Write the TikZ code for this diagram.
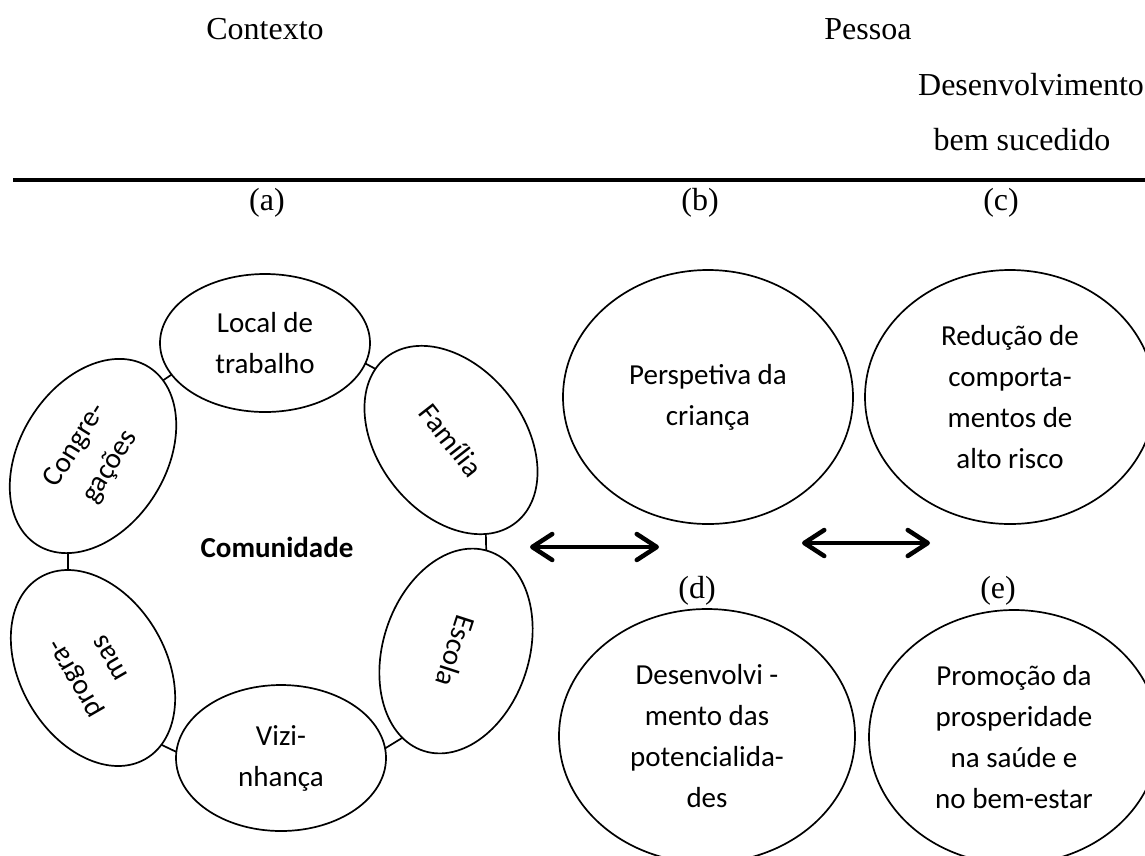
\documentclass[tikz,border=0pt]{standalone}
\usepackage{fontspec}
\setmainfont{Liberation Serif}
\newfontfamily\calibri{Carlito}
\usetikzlibrary{shapes.geometric,arrows.meta}
\pgfdeclarelayer{bg}
\pgfsetlayers{bg,main}
\begin{document}
\begin{tikzpicture}[x=1pt,y=-1pt,
  hdr/.style={font=\fontsize{32}{38}\selectfont, inner sep=0pt},
  cal/.style={font=\calibri\fontsize{29}{41}\selectfont},
  oval/.style={draw, ellipse, line width=1.7pt, fill=white, inner sep=0pt,
    minimum width=210pt, minimum height=146pt, align=center, cal},
  bigoval/.style={draw, ellipse, line width=1.7pt, fill=white, inner sep=0pt,
    minimum width=290pt, minimum height=254pt, align=center, cal},
  link/.style={line width=1.7pt},
  rule/.style={line width=4pt},
  dbl/.style={line width=4.5pt,
    {Straight Barb[length=20pt,width=26pt,round]}-{Straight Barb[length=20pt,width=26pt,round]}}
]
\useasboundingbox (0,0) rectangle (1145,855);

% header
\node[hdr, anchor=base] (ctx) at (265,39) {Contexto};
\node[hdr, anchor=base] (pes) at (868,39) {Pessoa};
\node[hdr, anchor=base] (dev1) at (1031,95) {Desenvolvimento};
\node[hdr, anchor=base] (dev2) at (1022,150) {bem sucedido};
\coordinate (rl) at (13,180);
\coordinate (rr) at (1145,180);
\draw[rule] (rl) -- (rr);

% labels
\node[hdr] (la) at (267,203) {(a)};
\node[hdr] (lb) at (700,203) {(b)};
\node[hdr] (lc) at (1001,203) {(c)};
\node[hdr] (ld) at (697,591) {(d)};
\node[hdr] (le) at (998,591) {(e)};

% community ring
\node[oval, minimum height=138pt] (loc) at (265,343) {Local de\\trabalho};
\node[oval, rotate=-52] (fam) at (451,440) {Família};
\node[oval, rotate=-108] (esc) at (456,651) {Escola};
\node[oval] (viz) at (281,758) {Vizi-\\nhança};
\node[oval, rotate=120] (prg) at (93,668) {progra-\\mas};
\node[oval, rotate=58] (cng) at (93,456) {Congre-\\gações};
\node[font=\calibri\bfseries\fontsize{29}{35}\selectfont] (com) at (277,547) {Comunidade};

\begin{pgfonlayer}{bg}
\draw[link] ([shift={(0,-33.5)}]loc.center) -- ([shift={(0,-30.5)}]fam.center);
\draw[link] ([shift={(0,-31.4)}]loc.center) -- ([shift={(0,-28.4)}]cng.center);
\draw[link] ([shift={(32.6,0)}]fam.center) -- ([shift={(32.6,0)}]esc.center);
\draw[link] ([shift={(-25,0)}]cng.center) -- ([shift={(-25,0)}]prg.center);
\draw[link] ([shift={(0,44)}]prg.center) -- ([shift={(0,44)}]viz.center);
\draw[link] ([shift={(0,54)}]viz.center) -- ([shift={(0,54)}]esc.center);
\end{pgfonlayer}

% person / outcome circles
\node[bigoval] (pb) at (708,397) {Perspetiva da\\criança};
\node[bigoval] (pc) at (1010,397) {Redução de\\comporta-\\mentos de\\alto risco};
\node[bigoval, minimum width=296pt] (pd) at (707,736) {Desenvolvi -\\mento das\\potencialida-\\des};
\node[bigoval] (pe) at (1014,737) {Promoção da\\prosperidade\\na saúde e\\no bem-estar};

% arrows
\coordinate (l1) at (530,547);
\coordinate (l2) at (659,547);
\draw[dbl] (l1) -- (l2);
\coordinate (r1) at (802,543);
\coordinate (r2) at (930,543);
\draw[dbl] (r1) -- (r2);
\end{tikzpicture}
\end{document}
